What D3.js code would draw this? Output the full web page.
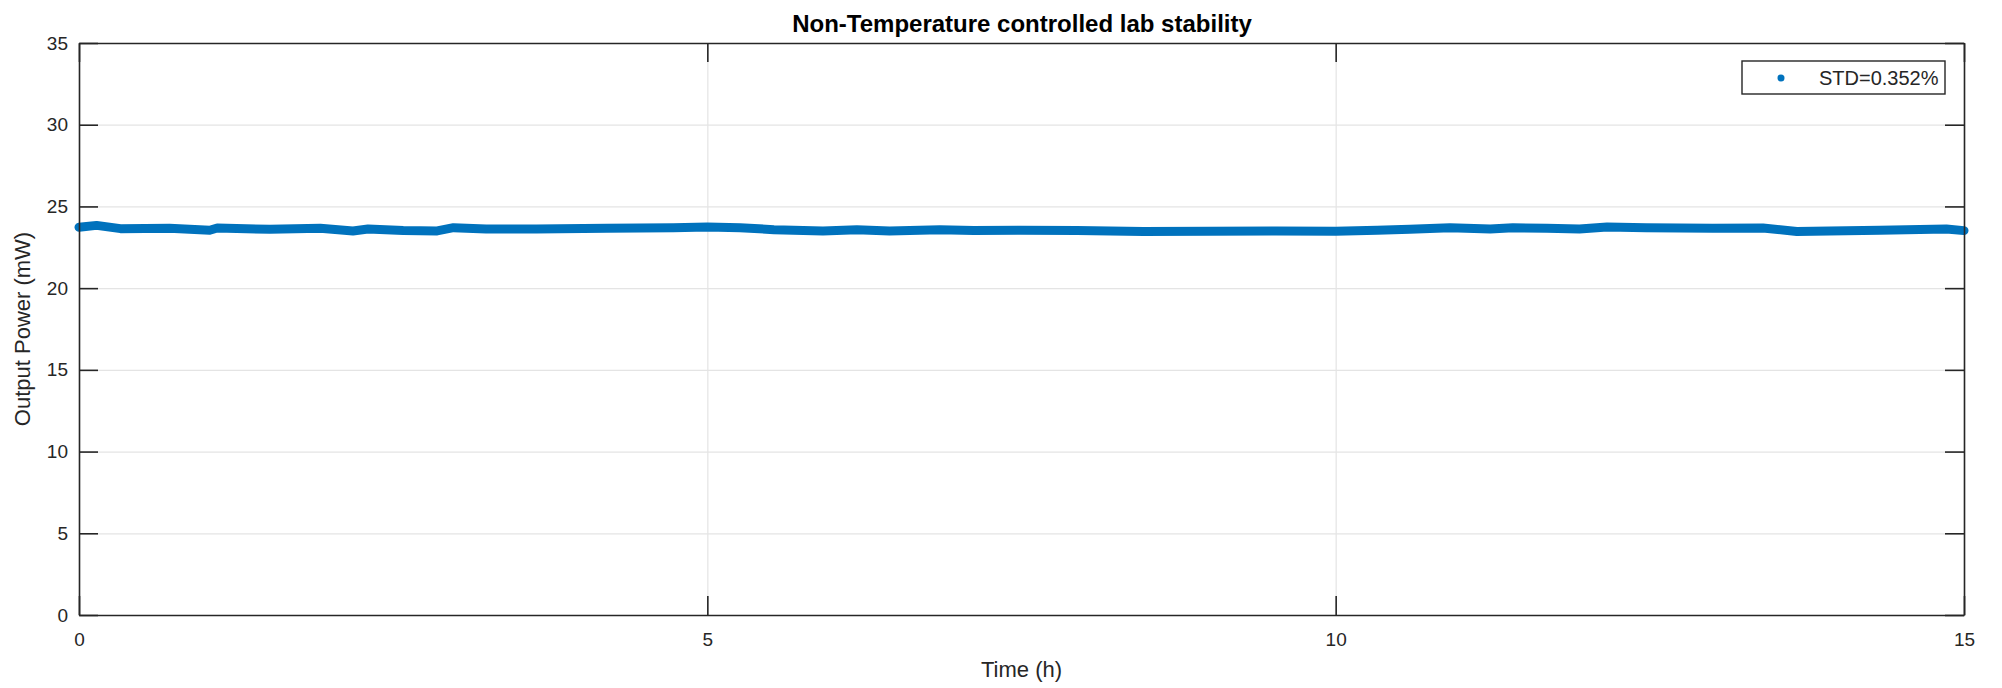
<!DOCTYPE html>
<html lang="en">
<head>
	<meta charset="UTF-8">
	<script src="https://cdn.jsdelivr.net/npm/d3@7"></script>
	<title>Non-Temperature controlled lab stability</title>
	<style>
		body { margin: 0; background: #fff; }
		text { font-family: "Liberation Sans", Arial, Helvetica, sans-serif; }
	</style>
</head>
<body>
<svg id="chart" width="2002" height="688"></svg>

<script>
	// values
	var timeH = [0, 0.14, 0.33, 0.72, 1.04, 1.1, 1.52, 1.92, 2.18, 2.3, 2.58, 2.85, 2.98, 3.24, 3.64,
		4.2, 4.73, 5.0, 5.26, 5.53, 5.92, 6.19, 6.45, 6.85, 7.12, 7.49, 7.94, 8.47, 9.0, 9.53,
		10.0, 10.33, 10.59, 10.91, 11.23, 11.41, 11.68, 11.94, 12.16, 12.47, 13.0, 13.4, 13.67,
		13.93, 14.33, 14.86, 15.0]
	var powerMW = [23.72, 23.84, 23.64, 23.66, 23.54, 23.68, 23.60, 23.66, 23.50, 23.62, 23.52, 23.50, 23.70, 23.62, 23.62,
		23.66, 23.70, 23.74, 23.70, 23.58, 23.50, 23.58, 23.50, 23.58, 23.52, 23.54, 23.52, 23.46, 23.48, 23.50,
		23.48, 23.54, 23.60, 23.70, 23.62, 23.70, 23.66, 23.62, 23.74, 23.70, 23.66, 23.68, 23.46,
		23.50, 23.54, 23.62, 23.52]
	var xTicks = [0, 5, 10, 15]
	var yTicks = [0, 5, 10, 15, 20, 25, 30, 35]
	var legendLabel = "STD=0.352%"

	// plot box (window.top is read-only, so use own names)
	var pLeft = 79, pRight = 1964, pTop = 43, pBottom = 615
	var w = pRight - pLeft, h = pBottom - pTop
	var axisColor = "#262626"
	var blue = "#0072BD"

	var svg = d3.select("#chart")

	var x = d3.scaleLinear().domain([0, 15]).range([pLeft, pRight])
	var y = d3.scaleLinear().domain([0, 35]).range([pBottom, pTop])

	// grid
	svg.append("g")
		.attr("transform", "translate(0," + pBottom + ")")
		.call(d3.axisBottom(x).tickValues(xTicks).tickSize(-h).tickFormat(""))
		.call(function(g) {
			g.select(".domain").remove()
			g.selectAll("line").attr("stroke", "#e4e4e4").attr("stroke-width", 1.2)
		})
	svg.append("g")
		.attr("transform", "translate(" + pLeft + ",0)")
		.call(d3.axisLeft(y).tickValues(yTicks).tickSize(-w).tickFormat(""))
		.call(function(g) {
			g.select(".domain").remove()
			g.selectAll("line").attr("stroke", "#e4e4e4").attr("stroke-width", 1.2)
		})

	// data band
	var data = timeH.map(function(t, i) { return [t, powerMW[i]] })
	var line = d3.line()
		.x(function(d) { return x(d[0]) })
		.y(function(d) { return y(d[1]) })
	svg.append("path")
		.datum(data)
		.attr("d", line)
		.attr("fill", "none")
		.attr("stroke", blue)
		.attr("stroke-width", 9)
		.attr("stroke-linejoin", "round")
		.attr("stroke-linecap", "round")

	// axes, ticks pointing inward on all sides
	function styleAxis(g) {
		g.selectAll(".domain").attr("stroke", axisColor).attr("stroke-width", 1.6)
		g.selectAll("line").attr("stroke", axisColor).attr("stroke-width", 1.6)
		g.selectAll("text").attr("fill", axisColor).style("font-size", "19px")
	}
	var tl = 19

	svg.append("g")
		.attr("transform", "translate(0," + pBottom + ")")
		.call(d3.axisBottom(x).tickValues(xTicks).tickSize(-tl).tickSizeOuter(0).tickPadding(18))
		.call(styleAxis)
	svg.append("g")
		.attr("transform", "translate(0," + pTop + ")")
		.call(d3.axisTop(x).tickValues(xTicks).tickSize(-tl).tickSizeOuter(0).tickFormat(""))
		.call(styleAxis)
	svg.append("g")
		.attr("transform", "translate(" + pLeft + ",0)")
		.call(d3.axisLeft(y).tickValues(yTicks).tickSize(-tl).tickSizeOuter(0).tickPadding(11))
		.call(styleAxis)
	svg.append("g")
		.attr("transform", "translate(" + pRight + ",0)")
		.call(d3.axisRight(y).tickValues(yTicks).tickSize(-tl).tickSizeOuter(0).tickFormat(""))
		.call(styleAxis)

	// title and labels
	svg.append("text")
		.attr("x", 1022).attr("y", 32)
		.attr("text-anchor", "middle")
		.style("font-size", "24px").style("font-weight", "bold")
		.attr("fill", "#000")
		.text("Non-Temperature controlled lab stability")
	svg.append("text")
		.attr("x", (pLeft + pRight) / 2).attr("y", 677)
		.attr("text-anchor", "middle")
		.style("font-size", "22px")
		.attr("fill", axisColor)
		.text("Time (h)")
	svg.append("text")
		.attr("transform", "translate(30," + ((pTop + pBottom) / 2) + ") rotate(-90)")
		.attr("text-anchor", "middle")
		.style("font-size", "22px")
		.attr("fill", axisColor)
		.text("Output Power (mW)")

	// legend
	var lg = svg.append("g")
	lg.append("rect")
		.attr("x", 1742).attr("y", 61).attr("width", 203).attr("height", 33)
		.attr("fill", "#fff").attr("stroke", axisColor).attr("stroke-width", 1.4)
	lg.append("circle")
		.attr("cx", 1781).attr("cy", 78).attr("r", 3.5)
		.attr("fill", blue)
	lg.append("text")
		.attr("x", 1819).attr("y", 85)
		.style("font-size", "20px")
		.attr("fill", axisColor)
		.text(legendLabel)
</script>
</body>
</html>
